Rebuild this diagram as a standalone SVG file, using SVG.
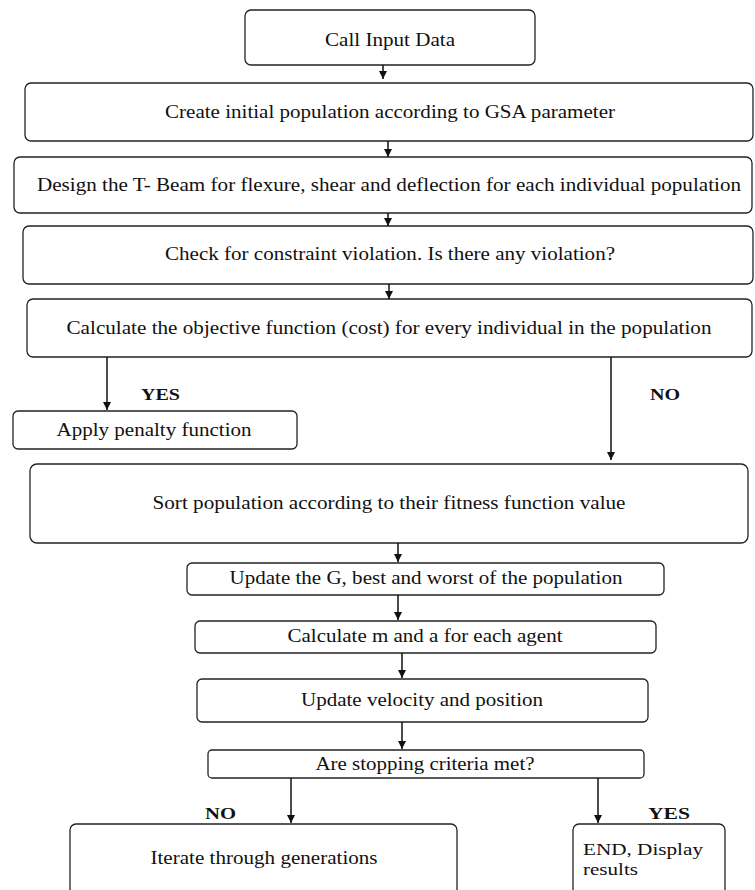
<svg xmlns="http://www.w3.org/2000/svg" width="755" height="890" viewBox="0 0 755 890">
<style>
.box{fill:#fff;stroke:#222;stroke-width:1.3}
.t{font-family:"Liberation Serif","Times New Roman",serif;font-size:18px;fill:#111;text-anchor:middle;dominant-baseline:central}
.tl{font-family:"Liberation Serif","Times New Roman",serif;font-size:17px;fill:#111}
.b{font-family:"Liberation Serif","Times New Roman",serif;font-size:17px;font-weight:bold;fill:#111}
.c{stroke:#111;stroke-width:1.5;fill:none;marker-end:url(#ah)}
</style>
<defs>
<marker id="ah" viewBox="0 0 10 10" refX="10" refY="5" markerWidth="8" markerHeight="8" markerUnits="userSpaceOnUse" orient="auto">
<path d="M0,0 L10,5 L0,10 Z" fill="#111"/>
</marker>
</defs>
<rect width="755" height="890" fill="#fff"/>
<g id="n1"><rect class="box" x="245" y="10" width="290" height="55" rx="6"/><text class="t" x="390" y="40" textLength="130" lengthAdjust="spacingAndGlyphs">Call Input Data</text></g>
<g id="n2"><rect class="box" x="25" y="83" width="728" height="58" rx="6"/><text class="t" x="390" y="112" textLength="450" lengthAdjust="spacingAndGlyphs">Create initial population according to GSA parameter</text></g>
<g id="n3"><rect class="box" x="14" y="157" width="738" height="56" rx="6"/><text class="t" x="389" y="185" textLength="704" lengthAdjust="spacingAndGlyphs">Design the T- Beam for flexure, shear and deflection for each individual population</text></g>
<g id="n4"><rect class="box" x="23" y="226" width="730" height="58" rx="6"/><text class="t" x="390" y="254" textLength="450" lengthAdjust="spacingAndGlyphs">Check for constraint violation. Is there any violation?</text></g>
<g id="n5"><rect class="box" x="27" y="299" width="725" height="58" rx="6"/><text class="t" x="389" y="328" textLength="645" lengthAdjust="spacingAndGlyphs">Calculate the objective function (cost) for every individual in the population</text></g>
<g id="n6"><rect class="box" x="13" y="411" width="284" height="38" rx="5"/><text class="t" x="154" y="430" textLength="195" lengthAdjust="spacingAndGlyphs">Apply penalty function</text></g>
<g id="n7"><rect class="box" x="30" y="464" width="718" height="79" rx="7"/><text class="t" x="389" y="503" textLength="473" lengthAdjust="spacingAndGlyphs">Sort population according to their fitness function value</text></g>
<g id="n8"><rect class="box" x="187" y="563" width="477" height="32" rx="5"/><text class="t" x="426" y="578" textLength="393" lengthAdjust="spacingAndGlyphs">Update the G, best and worst of the population</text></g>
<g id="n9"><rect class="box" x="195" y="621" width="461" height="32" rx="5"/><text class="t" x="425" y="636" textLength="275" lengthAdjust="spacingAndGlyphs">Calculate m and a for each agent</text></g>
<g id="n10"><rect class="box" x="197" y="679" width="451" height="43" rx="5"/><text class="t" x="422" y="700" textLength="242" lengthAdjust="spacingAndGlyphs">Update velocity and position</text></g>
<g id="n11"><rect class="box" x="208" y="750" width="436" height="28" rx="4"/><text class="t" x="425" y="764" textLength="219" lengthAdjust="spacingAndGlyphs">Are stopping criteria met?</text></g>
<g id="n12"><rect class="box" x="70" y="824" width="387" height="80" rx="6"/><text class="t" x="264" y="858" textLength="227" lengthAdjust="spacingAndGlyphs">Iterate through generations</text></g>
<g id="n13"><rect class="box" x="573" y="824" width="152" height="80" rx="6"/><text class="tl" x="583" y="855" textLength="120" lengthAdjust="spacingAndGlyphs">END, Display</text><text class="tl" x="583" y="875" textLength="55" lengthAdjust="spacingAndGlyphs">results</text></g>
<g id="connectors">
<line class="c" x1="383" y1="65" x2="383" y2="79"/>
<line class="c" x1="388" y1="141" x2="388" y2="157"/>
<line class="c" x1="388" y1="213" x2="388" y2="226"/>
<line class="c" x1="389" y1="284" x2="389" y2="299"/>
<line class="c" x1="107" y1="357" x2="107" y2="410"/>
<line class="c" x1="611" y1="357" x2="611" y2="460"/>
<line class="c" x1="398" y1="543" x2="398" y2="562"/>
<line class="c" x1="398" y1="595" x2="398" y2="620"/>
<line class="c" x1="402" y1="653" x2="402" y2="678"/>
<line class="c" x1="402" y1="722" x2="402" y2="749"/>
<line class="c" x1="291" y1="778" x2="291" y2="823"/>
<line class="c" x1="598" y1="778" x2="598" y2="823"/>
<text class="b" x="141" y="400" textLength="39" lengthAdjust="spacingAndGlyphs">YES</text>
<text class="b" x="650" y="400" textLength="30" lengthAdjust="spacingAndGlyphs">NO</text>
<text class="b" x="205" y="819" textLength="31" lengthAdjust="spacingAndGlyphs">NO</text>
<text class="b" x="648" y="819" textLength="42" lengthAdjust="spacingAndGlyphs">YES</text>
</g>
</svg>
